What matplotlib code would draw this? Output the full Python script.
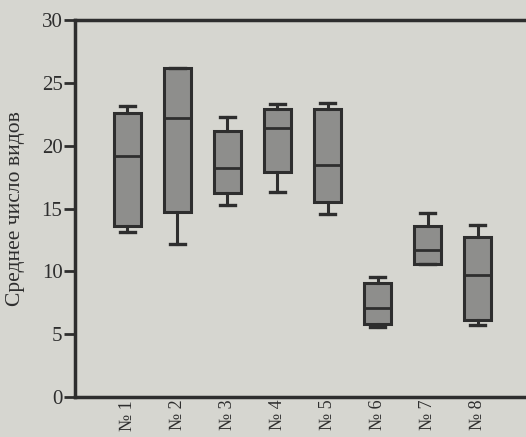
import matplotlib.pyplot as plt

# Box plot data
labels = ['№ 1', '№ 2', '№ 3', '№ 4', '№ 5', '№ 6', '№ 7', '№ 8']
whisker_low = [13.15, 12.2, 15.3, 16.3, 14.55, 5.55, 10.6, 5.7]
q1 = [13.6, 14.7, 16.25, 17.9, 15.5, 5.8, 10.6, 6.1]
medians = [19.2, 22.2, 18.25, 21.4, 18.45, 7.05, 11.7, 9.7]
q3 = [22.6, 26.2, 21.2, 22.9, 22.95, 9.04, 13.6, 12.7]
whisker_high = [23.15, 26.2, 22.25, 23.35, 23.4, 9.57, 14.66, 13.7]
yticks = [0, 5, 10, 15, 20, 25, 30]

plt.rcParams['font.family'] = ['Liberation Serif', 'DejaVu Serif']

paper = '#d6d6d0'
ink = '#2e2e2e'

fig = plt.figure(figsize=(5.26, 4.37), dpi=100, facecolor=paper)
ax = fig.add_axes([0.1426, 0.0915, 0.8574, 0.8627], facecolor=paper)

stats = []
for i in range(len(labels)):
    stats.append({
        'label': labels[i],
        'whislo': whisker_low[i],
        'q1': q1[i],
        'med': medians[i],
        'q3': q3[i],
        'whishi': whisker_high[i],
        'fliers': [],
    })

ax.bxp(stats, positions=range(1, len(labels) + 1), widths=0.54,
       patch_artist=True, showfliers=False,
       boxprops=dict(facecolor='#8e8e8c', edgecolor=ink, linewidth=2.2),
       medianprops=dict(color=ink, linewidth=2),
       whiskerprops=dict(color=ink, linewidth=2.2),
       capprops=dict(color=ink, linewidth=2.4),
       capwidths=0.3)

ax.set_xlim(-0.04, 8.96)
ax.set_ylim(0, 30)
ax.set_yticks(yticks)
ax.set_xticks(range(1, len(labels) + 1))
ax.set_xticklabels(labels, rotation=90, fontsize=13, color=ink)
ax.tick_params(axis='x', length=0, pad=2)
ax.tick_params(axis='y', length=8, width=2, direction='out', labelsize=15,
               colors=ink, pad=1)
ax.set_ylabel('Среднее число видов', fontsize=15.5, color=ink, labelpad=12)

for side in ['left', 'bottom', 'top']:
    ax.spines[side].set_linewidth(2.5)
    ax.spines[side].set_color(ink)
ax.spines['right'].set_visible(False)

fig.savefig('out.png', dpi=100, facecolor=paper)
